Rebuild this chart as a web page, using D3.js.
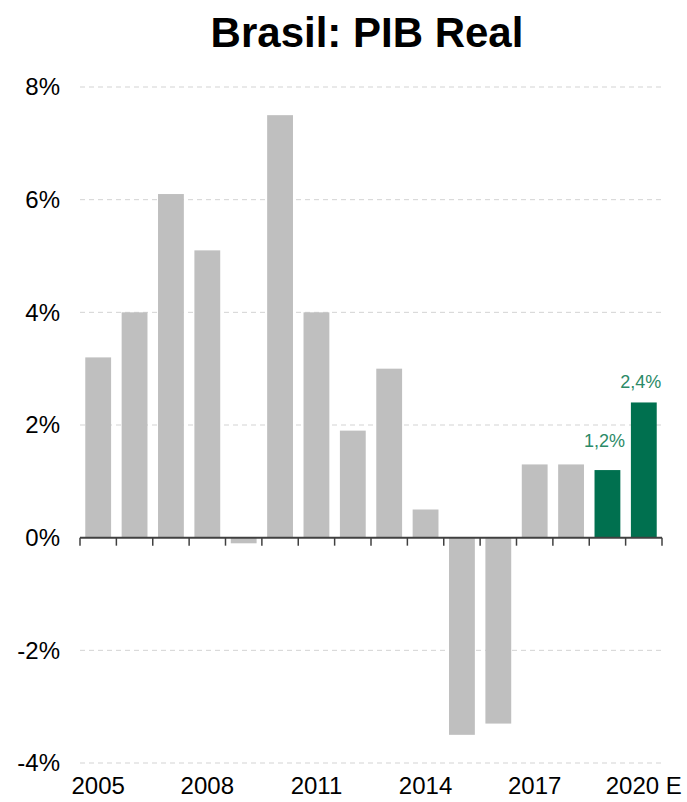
<!DOCTYPE html>
<html>
<head>
<meta charset="utf-8">
<script src="https://cdn.jsdelivr.net/npm/d3@7"></script>
<style>
  body { margin: 0; background: #fff; }
  text { font-family: Arial, "Liberation Sans", sans-serif; }
</style>
</head>
<body>
<div id="chart"></div>
<script>
// Data
const years = ["2005", "2006", "2007", "2008", "2009", "2010", "2011", "2012",
               "2013", "2014", "2015", "2016", "2017", "2018", "2019", "2020"];
const growth = [3.2, 4.0, 6.1, 5.1, -0.1, 7.5, 4.0, 1.9, 3.0, 0.5, -3.5, -3.3, 1.3, 1.3, 1.2, 2.4];
const estimated = [false, false, false, false, false, false, false, false,
                   false, false, false, false, false, false, true, true];
const yTicks = [-4, -2, 0, 2, 4, 6, 8];
const xLabelYears = ["2005", "2008", "2011", "2014", "2017", "2020"];
const xLabelText = { "2020": "2020 E" };

const data = years.map((y, i) => ({ year: y, value: growth[i], est: estimated[i] }));

const W = 687, H = 802;
const svg = d3.select("#chart").append("svg")
    .attr("width", W).attr("height", H);

// scales
const x = d3.scaleBand()
    .domain(years)
    .range([80, 662])
    .paddingInner(0.29)
    .paddingOuter(0.145);

const y = d3.scaleLinear()
    .domain([-4, 8])
    .range([763, 87]);

// title
svg.append("text")
    .attr("x", 367).attr("y", 47)
    .attr("text-anchor", "middle")
    .style("font-size", "42px")
    .style("font-weight", "bold")
    .attr("fill", "#000")
    .text("Brasil: PIB Real");

// gridlines (dashed)
svg.append("g")
    .selectAll("line")
    .data(yTicks.filter(d => d !== 0))
    .join("line")
    .attr("x1", 80).attr("x2", 662)
    .attr("y1", d => y(d)).attr("y2", d => y(d))
    .attr("stroke", "#d3d3d3")
    .attr("stroke-width", 1)
    .attr("stroke-dasharray", "5,4");

// y labels
svg.append("g")
    .selectAll("text")
    .data(yTicks)
    .join("text")
    .attr("x", 60)
    .attr("y", d => y(d))
    .attr("dy", "0.35em")
    .attr("text-anchor", "end")
    .style("font-size", "24px")
    .attr("fill", "#000")
    .text(d => d + "%");

// bars
svg.append("g")
    .selectAll("rect")
    .data(data)
    .join("rect")
    .attr("x", d => x(d.year))
    .attr("width", x.bandwidth())
    .attr("y", d => y(Math.max(0, d.value)))
    .attr("height", d => Math.abs(y(d.value) - y(0)))
    .attr("fill", d => d.est ? "#00704f" : "#bfbfbf");

// zero axis line with ticks at band boundaries
const axisG = svg.append("g");
axisG.append("line")
    .attr("x1", x.range()[0]).attr("x2", x.range()[1])
    .attr("y1", y(0)).attr("y2", y(0))
    .attr("stroke", "#404040")
    .attr("stroke-width", 2);

axisG.selectAll(".tick")
    .data(d3.range(years.length + 1))
    .join("line")
    .attr("class", "tick")
    .attr("x1", i => x.range()[0] + i * x.step())
    .attr("x2", i => x.range()[0] + i * x.step())
    .attr("y1", y(0)).attr("y2", y(0) + 8)
    .attr("stroke", "#404040")
    .attr("stroke-width", 1.5);

// x labels
svg.append("g")
    .selectAll("text")
    .data(xLabelYears)
    .join("text")
    .attr("x", d => x(d) + x.bandwidth() / 2)
    .attr("y", 794)
    .attr("text-anchor", "middle")
    .style("font-size", "24px")
    .attr("fill", "#000")
    .text(d => xLabelText[d] || d);

// value labels for estimates
const fmt = v => v.toFixed(1).replace(".", ",") + "%";
svg.append("g")
    .selectAll("text")
    .data(data.filter(d => d.est))
    .join("text")
    .attr("x", d => x(d.year) + x.bandwidth() / 2 - 3)
    .attr("y", (d, i) => y(d.value) - (i === 0 ? 23 : 14))
    .attr("text-anchor", "middle")
    .style("font-size", "18px")
    .attr("fill", "#2b8a67")
    .text(d => fmt(d.value));
</script>
</body>
</html>
